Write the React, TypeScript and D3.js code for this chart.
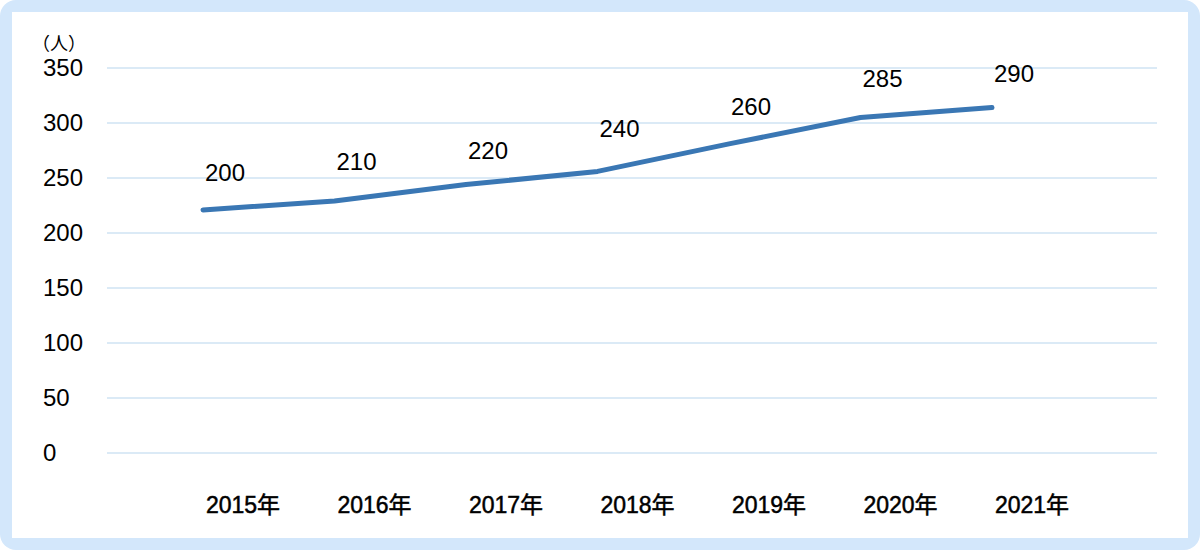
import React, { useRef, useEffect } from 'react';
import * as d3 from 'd3';

const years = ['2015年', '2016年', '2017年', '2018年', '2019年', '2020年', '2021年'];
// line position as drawn in the picture
const lineValues = [221, 229, 244, 256, 281, 305, 314];
// numbers printed above each point
const labelValues = [200, 210, 220, 240, 260, 285, 290];
const yTicks = [0, 50, 100, 150, 200, 250, 300, 350];
const unitLabel = '（人）';

const W = 1200;
const H = 550;

const App = () => {
  const ref = useRef(null);

  useEffect(() => {
    const svg = d3.select(ref.current);
    svg.selectAll('*').remove();

    const font = '"Liberation Sans", Arial, "Noto Sans CJK JP", sans-serif';

    // frame
    svg.append('rect')
      .attr('x', 0).attr('y', 0)
      .attr('width', W).attr('height', H)
      .attr('rx', 16)
      .attr('fill', '#d3e7fb');
    svg.append('rect')
      .attr('x', 12).attr('y', 12)
      .attr('width', W - 24).attr('height', H - 24)
      .attr('fill', '#ffffff');

    const y = d3.scaleLinear().domain([0, 350]).range([453, 68]);
    const x = d3.scalePoint().domain(years).range([203, 992]);

    // grid
    svg.append('g')
      .selectAll('line')
      .data(yTicks)
      .enter()
      .append('line')
      .attr('x1', 107)
      .attr('x2', 1157)
      .attr('y1', d => y(d))
      .attr('y2', d => y(d))
      .attr('stroke', '#dbeaf6')
      .attr('stroke-width', 2);

    // y tick labels
    svg.append('g')
      .selectAll('text')
      .data(yTicks)
      .enter()
      .append('text')
      .attr('x', 43)
      .attr('y', d => y(d) + 8)
      .attr('font-family', font)
      .attr('font-size', 24)
      .attr('fill', '#000')
      .text(d => d);

    svg.append('text')
      .attr('x', 32)
      .attr('y', 50)
      .attr('font-family', '"Noto Sans CJK JP", sans-serif')
      .attr('font-size', 18)
      .attr('fill', '#000')
      .text(unitLabel);

    // x labels
    svg.append('g')
      .selectAll('text')
      .data(years)
      .enter()
      .append('text')
      .attr('x', d => x(d) + 40)
      .attr('y', 513)
      .attr('text-anchor', 'middle')
      .attr('font-family', font)
      .attr('font-size', 23)
      .attr('fill', '#000')
      .attr('stroke', '#000')
      .attr('stroke-width', 0.5)
      .text(d => d);

    // line
    const line = d3.line()
      .x((d, i) => x(years[i]))
      .y(d => y(d));
    svg.append('path')
      .datum(lineValues)
      .attr('d', line)
      .attr('fill', 'none')
      .attr('stroke', '#3a77b4')
      .attr('stroke-width', 5)
      .attr('stroke-linecap', 'round')
      .attr('stroke-linejoin', 'round');

    // data labels
    svg.append('g')
      .selectAll('text')
      .data(labelValues)
      .enter()
      .append('text')
      .attr('x', (d, i) => x(years[i]) + 22)
      .attr('y', d => y(d) - 52.5)
      .attr('text-anchor', 'middle')
      .attr('font-family', font)
      .attr('font-size', 24)
      .attr('fill', '#000')
      .text(d => d);
  }, []);

  return (
    <svg
      ref={ref}
      width={W}
      height={H}
      style={{ position: 'absolute', left: 0, top: 0 }}
    ></svg>
  );
};

export default App;
